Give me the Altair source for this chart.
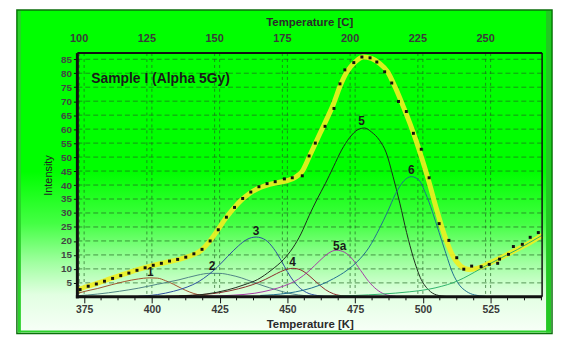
import altair as alt
import pandas as pd

# ---------------- data ----------------
k_ticks = [375, 400, 425, 450, 475, 500, 525]
c_ticks = [100, 125, 150, 175, 200, 225, 250]
y_ticks = [5, 10, 15, 20, 25, 30, 35, 40, 45, 50, 55, 60, 65, 70, 75, 80, 85]
minor_k = [381.25, 387.5, 393.75, 406.25, 412.5, 418.75, 431.25, 437.5, 443.75,
           456.25, 462.5, 468.75, 481.25, 487.5, 493.75, 506.25, 512.5, 518.75,
           531.25, 537.5, 543.75]

fit_k = [372.5, 376, 380, 385, 390, 395, 400, 405, 410, 414, 418, 421, 424, 427, 430,
         433, 436, 439, 442, 446, 450, 453, 455.5, 458, 461, 464, 467, 469.5, 472, 475,
         478, 481, 484, 487, 490, 493, 496, 499, 502, 505, 508, 511, 514, 517, 520, 524,
         528, 532, 536, 540, 544]
fit_i = [2.5, 3.7, 4.9, 6.6, 8.2, 9.8, 11.2, 12.3, 13.4, 14.6, 16.5, 19.5, 23.5, 27.8, 31.5,
         34.6, 37.0, 38.7, 39.8, 40.8, 41.6, 42.8, 45.0, 50.0, 56.3, 62.5, 69.0, 75.5, 80.5, 84.0,
         85.8, 85.3, 83.5, 80.5, 74.5, 67.5, 60.0, 51.5, 42.0, 31.5, 22.0, 14.8, 11.0, 9.8, 10.2, 11.8,
         13.6, 15.6, 17.6, 19.7, 22.0]

dot_k = [373.5, 376.5, 379.5, 382.5, 385.5, 388.5, 391.5, 394.5, 397.5, 400.5, 403.5, 406.5,
         409.5, 412.5, 415.5, 418.5, 421.5, 424.5, 427.5, 430.5, 433.5, 436.5, 439.5, 442.5,
         445.5, 448.9, 451.8, 455.5, 458.0, 460.3, 463.9, 467.2, 469.4, 471.2, 474.5, 477.5,
         480.5, 483.0, 485.9, 488.5, 491.0, 493.9, 496.5, 499.4, 502.3, 506.0, 509.6, 512.5,
         515.1, 518.0, 521.5, 524.5, 527.6, 528.3, 531.6, 533.4, 536.7, 539.6, 542.6]
dot_i = [2.6, 3.8, 4.6, 5.6, 6.6, 7.6, 8.5, 9.5, 10.4, 11.3, 12.0, 12.8,
         13.4, 14.2, 15.4, 17.0, 20.0, 24.0, 28.5, 32.0, 35.2, 37.5, 39.4, 40.5,
         41.2, 42.2, 42.6, 43.3, 50.4, 55.0, 61.0, 67.4, 76.2, 81.2, 83.8, 85.8,
         85.5, 84.0, 80.5, 76.5, 69.9, 66.3, 58.5, 52.8, 42.6, 26.2, 20.2, 14.0,
         9.9, 11.0, 10.8, 11.6, 12.0, 13.5, 15.2, 18.0, 18.8, 21.3, 23.0]

p1_k = [372.5, 375, 380, 385, 390, 395, 399, 402, 405, 408, 411, 414, 417, 421, 426]
p1_i = [1.2, 1.9, 3.0, 4.3, 5.5, 6.4, 6.8, 6.7, 5.8, 4.5, 3.0, 1.7, 0.8, 0.3, 0.05]

p2_k = [372.5, 380, 388, 395, 402, 410, 417, 421, 425, 429, 433, 437, 441, 446, 450, 454, 460, 466]
p2_i = [0.4, 1.0, 2.0, 3.1, 4.5, 6.1, 7.8, 8.4, 8.4, 7.8, 6.8, 5.4, 4.0, 2.5, 1.4, 0.7, 0.2, 0.0]

p3_k = [395, 402, 408, 413, 417, 421, 424, 428, 432, 435, 438.5, 442, 445, 448, 450, 452, 454, 457, 461, 466]
p3_i = [0.2, 0.8, 2.0, 3.5, 5.3, 8.0, 10.5, 14.5, 18.3, 20.5, 21.4, 20.3, 17.2, 12.5, 9.0, 6.0, 3.7, 1.6, 0.5, 0.1]

p4_k = [405, 415, 425, 432, 437, 442, 446, 449, 452, 455, 458, 461, 464, 467, 471, 476]
p4_i = [0.2, 0.6, 1.5, 2.9, 4.3, 6.3, 8.3, 9.6, 10.2, 9.6, 7.6, 5.0, 2.6, 1.1, 0.3, 0.05]

p5a_k = [420, 430, 438, 444, 449, 454, 458, 462, 465, 468, 471, 474, 477, 480, 483, 486, 490]
p5a_i = [0.2, 0.6, 1.3, 2.5, 4.0, 6.3, 9.3, 13.0, 15.5, 16.7, 16.0, 13.5, 9.5, 5.5, 2.6, 0.9, 0.2]

p5_k = [410, 420, 428, 434, 439, 444, 448.5, 452, 455, 458, 461, 464, 467, 470, 473, 476,
        478.5, 481, 484, 486.5, 489, 491.5, 494, 496.5, 499, 502, 505, 509]
p5_i = [0.3, 1.0, 2.5, 4.3, 6.2, 9.5, 13.3, 17.5, 22.5, 29.0, 35.0, 40.5, 46.5, 52.5, 57.0, 59.8,
        60.4, 59.0, 56.0, 51.5, 43.0, 33.5, 23.0, 14.0, 7.0, 2.6, 0.7, 0.1]

p6_k = [440, 450, 456, 462, 467, 472, 476, 480, 484, 487, 490, 493, 495.7, 498.5, 501,
        503.5, 506, 508.5, 511, 513.5, 516, 519, 523]
p6_i = [0.5, 1.3, 2.4, 4.2, 6.5, 9.5, 12.8, 17.5, 24.5, 30.5, 37.0, 41.5, 43.0, 41.8, 37.0,
        30.5, 23.0, 15.5, 8.5, 4.2, 2.0, 0.7, 0.2]

bg_k = [450, 465, 475, 485, 495, 502, 507, 511, 515, 519, 523, 527, 531, 535, 539, 544]
bg_i = [0.0, 0.2, 0.5, 1.0, 1.8, 2.7, 3.8, 5.0, 6.7, 8.8, 11.0, 13.0, 15.0, 17.0, 19.2, 22.0]

peak_names = ["1", "2", "3", "4", "5a", "5", "6", "bg"]
peak_colors = ["#a0522d", "#4f8585", "#2c4f9e", "#8a2a2a", "#a43ca4", "#1d2d1d", "#1f6f8f", "#2fb36a"]

label_text = ["1", "2", "3", "4", "5a", "5", "6"]
label_k = [399.4, 422.2, 438.4, 451.9, 469.3, 477.4, 495.7]
label_i = [9.0, 11.0, 23.5, 12.5, 18.1, 63.0, 45.3]

# ---------------- tables ----------------
fit_df = pd.DataFrame({"K": fit_k, "I": fit_i})
dot_df = pd.DataFrame({"K": dot_k, "I": dot_i})
series = [(p1_k, p1_i), (p2_k, p2_i), (p3_k, p3_i), (p4_k, p4_i),
          (p5a_k, p5a_i), (p5_k, p5_i), (p6_k, p6_i), (bg_k, bg_i)]
comp_df = pd.concat([pd.DataFrame({"K": k, "I": i, "peak": n})
                     for n, (k, i) in zip(peak_names, series)], ignore_index=True)
lab_df = pd.DataFrame({"K": label_k, "I": label_i, "t": label_text})
hgrid_df = pd.DataFrame({"I": y_ticks})
vgrid_df = pd.DataFrame({"K": k_ticks + [c + 273.15 for c in c_ticks]})
top_df = pd.DataFrame({"K": [c + 273.15 for c in c_ticks], "t": [str(c) for c in c_ticks]})
minor_df = pd.DataFrame({"K": minor_k})
one = pd.DataFrame({"z": [0]})

W, H = 469, 246
FONT = "Liberation Sans"

X = alt.X("K:Q", scale=alt.Scale(domain=[372.5, 544], nice=False, zero=False),
          axis=alt.Axis(values=k_ticks, format="d", title="Temperature [K]",
                        labelFont=FONT, labelFontSize=10.5, labelFontWeight="bold",
                        labelColor="#3a3a3a", tickColor="#111", tickSize=6, tickWidth=1,
                        labelPadding=2, titleFont=FONT, titleFontSize=11.5,
                        titleFontWeight="bold", titleColor="#2a2a2a", titlePadding=3,
                        domain=False, grid=False, zindex=2))
Y = alt.Y("I:Q", scale=alt.Scale(domain=[0, 87.2], nice=False, zero=False),
          axis=alt.Axis(values=y_ticks, format="d", title="Intensity",
                        labelFont=FONT, labelFontSize=10, labelFontWeight="bold",
                        labelColor="#444", tickColor="#111", tickSize=4, labelPadding=2,
                        titleFont=FONT, titleFontSize=11, titleFontWeight="normal",
                        titleColor="#222", titlePadding=7, domain=False, grid=False, zindex=2))

grad = alt.LinearGradient(
    gradient="linear", x1=0, x2=0, y1=0, y2=1,
    stops=[alt.GradientStop(offset=0, color="#00ff00"),
           alt.GradientStop(offset=0.5, color="#00ff00"),
           alt.GradientStop(offset=0.66, color="#44ff44"),
           alt.GradientStop(offset=0.78, color="#a0ffa0"),
           alt.GradientStop(offset=0.88, color="#e2ffe2"),
           alt.GradientStop(offset=1, color="#f8fff8")])

panel = alt.Chart(one).mark_rect(fill=grad, stroke="#0b6e0b", strokeWidth=1.5).encode(
    x=alt.value(-61), x2=alt.value(479), y=alt.value(-43.5), y2=alt.value(283))
lstrip = alt.Chart(one).mark_rect(fill="#2bd12b").encode(
    x=alt.value(-60), x2=alt.value(-57), y=alt.value(-42.5), y2=alt.value(282))
rstrip = alt.Chart(one).mark_rect(fill="#22c822").encode(
    x=alt.value(473), x2=alt.value(478), y=alt.value(-42.5), y2=alt.value(282))
bstrip = alt.Chart(one).mark_rect(fill="#2bd12b").encode(
    x=alt.value(-60), x2=alt.value(478), y=alt.value(280), y2=alt.value(282))

hgrid = alt.Chart(hgrid_df).mark_rule(color="#1f5f1f", strokeWidth=0.8, strokeDash=[5, 3],
                                      opacity=0.85).encode(
    y=Y, x=alt.value(0), x2=alt.value(W))
vgrid = alt.Chart(vgrid_df).mark_rule(color="#1f5f1f", strokeWidth=0.8, strokeDash=[3, 3],
                                      opacity=0.85).encode(
    x=X, y=alt.value(0), y2=alt.value(H))

fit = alt.Chart(fit_df).mark_line(color="#f0f020", strokeWidth=5, interpolate="monotone",
                                  opacity=0.9).encode(x=X, y=Y)
comps = alt.Chart(comp_df).mark_line(strokeWidth=1, interpolate="monotone").encode(
    x=X, y=Y,
    color=alt.Color("peak:N", scale=alt.Scale(domain=peak_names, range=peak_colors), legend=None))
dots = alt.Chart(dot_df).mark_square(size=9, color="#111", opacity=1).encode(x=X, y=Y)
labels = alt.Chart(lab_df).mark_text(font=FONT, fontSize=12, fontWeight="bold", color="#1a1a1a",
                                     align="center", baseline="middle").encode(x=X, y=Y, text="t:N")

minor = alt.Chart(minor_df).mark_rule(color="#111", strokeWidth=1).encode(
    x=X, y=alt.value(H), y2=alt.value(H + 3.5))

frame_l = alt.Chart(one).mark_rule(color="#111", strokeWidth=3).encode(
    x=alt.value(0), y=alt.value(0), y2=alt.value(H + 1.5))
frame_b = alt.Chart(one).mark_rule(color="#111", strokeWidth=3).encode(
    y=alt.value(H), x=alt.value(-1.5), x2=alt.value(W))
frame_t = alt.Chart(one).mark_rule(color="#111", strokeWidth=2).encode(
    y=alt.value(0), x=alt.value(0), x2=alt.value(W))
frame_r = alt.Chart(one).mark_rule(color="#111", strokeWidth=1.5).encode(
    x=alt.value(W), y=alt.value(0), y2=alt.value(H))

top_lab = alt.Chart(top_df).mark_text(font=FONT, fontSize=11, fontWeight="bold", color="#3a3a3a",
                                      baseline="middle").encode(x=X, y=alt.value(-14), text="t:N")
top_title = alt.Chart(one).mark_text(text="Temperature [C]", font=FONT, fontSize=11.5,
                                     fontWeight="bold", color="#2a2a2a",
                                     baseline="middle").encode(x=alt.value(W / 2), y=alt.value(-30))
sample = alt.Chart(one).mark_text(text="Sample I (Alpha 5Gy)", font=FONT, fontSize=14,
                                  fontWeight="bold", color="#1a1a1a", align="left",
                                  baseline="middle").encode(x=alt.value(14), y=alt.value(26))

chart = alt.layer(
    panel, lstrip, rstrip, bstrip, hgrid, vgrid, fit, comps, dots, labels, minor,
    frame_l, frame_b, frame_t, frame_r, top_lab, top_title, sample
).properties(
    width=W, height=H,
    padding={"left": 70, "top": 44, "right": 12, "bottom": 38},
    autosize=alt.AutoSizeParams(type="none"),
    background="white",
).configure_view(stroke=None)

chart.save("out.html", embed_options={"renderer": "svg", "actions": False})
